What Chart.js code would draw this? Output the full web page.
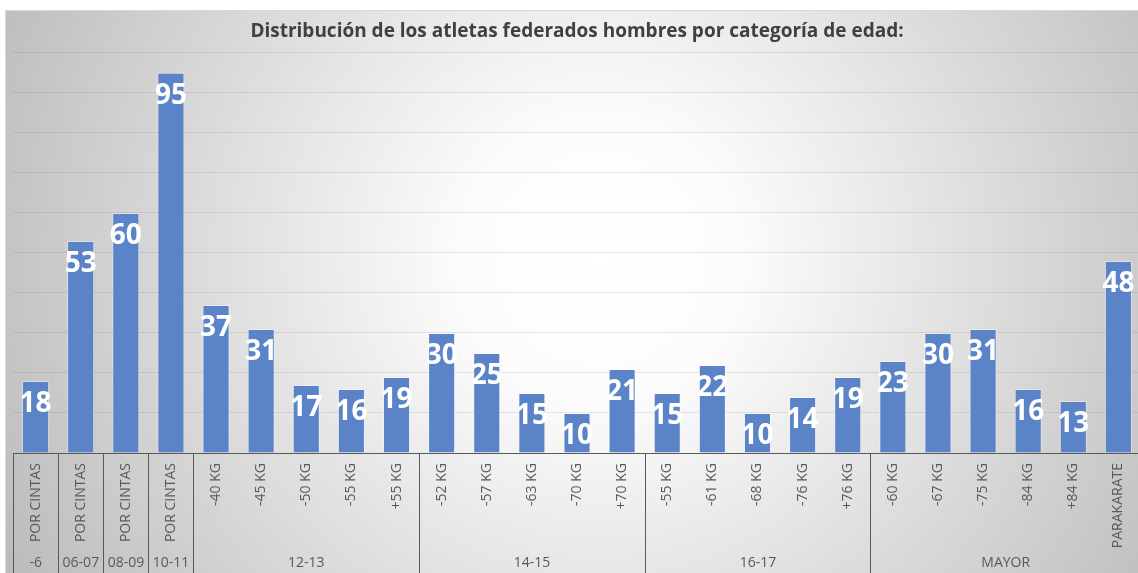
<!DOCTYPE html>
<html>
<head>
<meta charset="utf-8">
<script src="https://cdn.jsdelivr.net/npm/chart.js@4.4.0/dist/chart.umd.min.js"></script>
<style>
  body { margin: 0; background: #ffffff; overflow: hidden; }
  #wrap { width: 1138px; height: 573px; overflow: hidden; }
</style>
</head>
<body>
<div id="wrap"><canvas id="athletes" width="1141" height="573"></canvas></div>
<script>
const categories = ['POR CINTAS', 'POR CINTAS', 'POR CINTAS', 'POR CINTAS',
    '-40 KG', '-45 KG', '-50 KG', '-55 KG', '+55 KG',
    '-52 KG', '-57 KG', '-63 KG', '-70 KG', '+70 KG',
    '-55 KG', '-61 KG', '-68 KG', '-76 KG', '+76 KG',
    '-60 KG', '-67 KG', '-75 KG', '-84 KG', '+84 KG', 'PARAKARATE'];
const athletes = [18, 53, 60, 95, 37, 31, 17, 16, 19, 30, 25, 15, 10, 21, 15, 22, 10, 14, 19, 23, 30, 31, 16, 13, 48];
const groupNames = ['-6', '06-07', '08-09', '10-11', '12-13', '14-15', '16-17', 'MAYOR'];
const groupSizes = [1, 1, 1, 1, 5, 5, 5, 6];

const $$ = el => document.getElementById(el);

// fondo con degradado radial, como en Excel
const backgroundPlugin = {
    id: 'background',
    beforeDraw: (chart) => {
        const ctx = chart.ctx;
        ctx.save();
        ctx.fillStyle = '#ffffff';
        ctx.fillRect(0, 0, chart.width, chart.height);
        const g = ctx.createRadialGradient(600, 260, 0, 600, 260, 680);
        g.addColorStop(0, '#ffffff');
        g.addColorStop(0.2, '#fcfcfc');
        g.addColorStop(1, '#bababa');
        ctx.fillStyle = g;
        ctx.fillRect(5, 10, chart.width - 5, chart.height - 10);
        ctx.strokeStyle = '#d9d9d9';
        ctx.lineWidth = 1;
        ctx.strokeRect(5.5, 10.5, chart.width - 5, chart.height - 10);
        ctx.restore();
    }
};

// etiquetas blancas dentro de cada barra
const valueLabels = {
    id: 'valueLabels',
    afterDatasetsDraw: (chart) => {
        const ctx = chart.ctx;
        const meta = chart.getDatasetMeta(0);
        ctx.save();
        ctx.fillStyle = '#ffffff';
        ctx.font = 'bold 28px "Open Sans"';
        ctx.textAlign = 'center';
        ctx.textBaseline = 'middle';
        meta.data.forEach((bar, i) => {
            ctx.fillText(chart.data.datasets[0].data[i], bar.x, bar.y + 23);
        });
        ctx.restore();
    }
};

// segundo nivel del eje: categorías de edad
const groupAxis = {
    id: 'groupAxis',
    afterDraw: (chart) => {
        const ctx = chart.ctx;
        const x = chart.scales.x;
        const half = (x.getPixelForValue(1) - x.getPixelForValue(0)) / 2;
        const top = chart.chartArea.bottom;
        const bottom = chart.height;
        ctx.save();
        ctx.strokeStyle = '#595959';
        ctx.lineWidth = 1;
        ctx.fillStyle = '#595959';
        ctx.font = '14px "Open Sans"';
        ctx.textAlign = 'center';
        ctx.textBaseline = 'middle';
        let start = 0;
        groupNames.forEach((name, gi) => {
            const end = start + groupSizes[gi] - 1;
            const left = Math.round(x.getPixelForValue(start) - half) + 0.5;
            const right = x.getPixelForValue(end) + half;
            ctx.beginPath();
            ctx.moveTo(left, top);
            ctx.lineTo(left, bottom);
            ctx.stroke();
            ctx.fillText(name, (left + right) / 2, 563);
            start = end + 1;
        });
        ctx.restore();
    }
};

const config = {
    type: 'bar',
    data: {
        labels: categories,
        datasets: [{
            label: 'Atletas',
            data: athletes,
            backgroundColor: '#5b83c8',
            borderColor: 'rgba(255,255,255,0.35)',
            borderWidth: 1,
            barPercentage: 0.6,
            categoryPercentage: 1
        }]
    },
    options: {
        responsive: false,
        animation: false,
        layout: {
            padding: { left: 13, right: 0, top: 10, bottom: 0 }
        },
        plugins: {
            legend: { display: false },
            tooltip: { enabled: false },
            title: {
                display: true,
                text: 'Distribución de los atletas federados hombres por categoría de edad:',
                color: '#404040',
                font: { family: 'Open Sans', size: 19, weight: 'bold' },
                padding: { top: 10, bottom: 10 }
            }
        },
        scales: {
            x: {
                grid: { display: false, drawTicks: false },
                border: { display: true, color: '#595959', width: 1 },
                ticks: {
                    color: '#595959',
                    font: { family: 'Open Sans', size: 14 },
                    minRotation: 90,
                    maxRotation: 90,
                    autoSkip: false,
                    padding: 10
                },
                afterFit: (scale) => {
                    scale.height = 120;
                    scale.paddingLeft = 0;
                    scale.paddingRight = 0;
                }
            },
            y: {
                min: 0,
                max: 100,
                ticks: { display: false, stepSize: 10 },
                grid: { color: 'rgba(0,0,0,0.08)', drawTicks: false },
                border: { display: false }
            }
        }
    },
    plugins: [backgroundPlugin, valueLabels, groupAxis]
};

const chartAthletes = new Chart($$('athletes'), config);
</script>
</body>
</html>
